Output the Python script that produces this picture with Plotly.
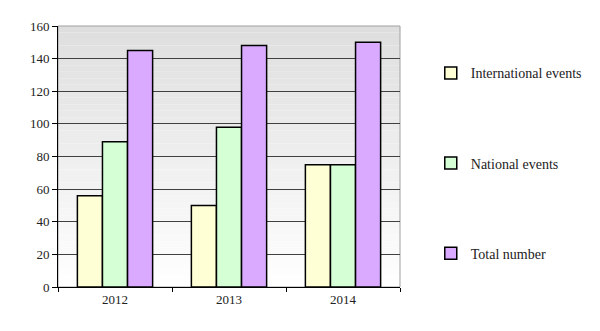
import plotly.graph_objects as go

years = ["2012", "2013", "2014"]
international = [56, 50, 75]
national = [89, 98, 75]
total = [145, 148, 150]
y_ticks = [0, 20, 40, 60, 80, 100, 120, 140, 160]

series = [
    ("International events", international, "#ffffd5"),
    ("National events", national, "#d5ffd5"),
    ("Total number", total, "#d9aaff"),
]

fig = go.Figure()
for i, (name, vals, col) in enumerate(series):
    fig.add_trace(go.Bar(
        x=years, y=vals, name=name, legendgroup=name,
        marker=dict(color=col, line=dict(color="black", width=1.5)),
    ))

# vertical gradient background of plot area (light gray at top -> white at bottom)
n = 40
for k in range(n):
    t = (k + 0.5) / n
    g = int(round(255 - (255 - 222) * t))
    fig.add_shape(type="rect", xref="x domain", yref="y domain",
                  x0=0, x1=1, y0=k / n, y1=(k + 1) / n, layer="below",
                  line=dict(width=0), fillcolor=f"rgb({g},{g},{g})")
# top/right border
fig.add_shape(type="rect", xref="x domain", yref="y domain", x0=0, x1=1, y0=0, y1=1,
              line=dict(color="#a0a0a0", width=1), layer="below")

serif = "Liberation Serif"
fig.update_layout(
    width=600, height=331,
    margin=dict(l=58, r=200, t=26, b=44),
    paper_bgcolor="white", plot_bgcolor="rgba(0,0,0,0)",
    barmode="group", bargap=0.34, bargroupgap=0,
    font=dict(family=serif, size=13, color="#222"),
    showlegend=True,
    legend=dict(x=1.09, y=0.88, xanchor="left", yanchor="top",
                tracegroupgap=69, font=dict(family=serif, size=14, color="#222"),
                bgcolor="rgba(0,0,0,0)"),
    xaxis=dict(showline=True, linecolor="black", linewidth=1,
               ticks="outside", tickson="boundaries", ticklen=4, tickcolor="black",
               showgrid=False, tickfont=dict(family=serif, size=13)),
    yaxis=dict(range=[0, 160], tickvals=y_ticks, showline=True, linecolor="black",
               linewidth=1, ticks="outside", ticklen=5, tickcolor="black",
               showgrid=True, gridcolor="#404040", gridwidth=1, zeroline=False,
               tickfont=dict(family=serif, size=13)),
)

fig.write_html("out.html")
